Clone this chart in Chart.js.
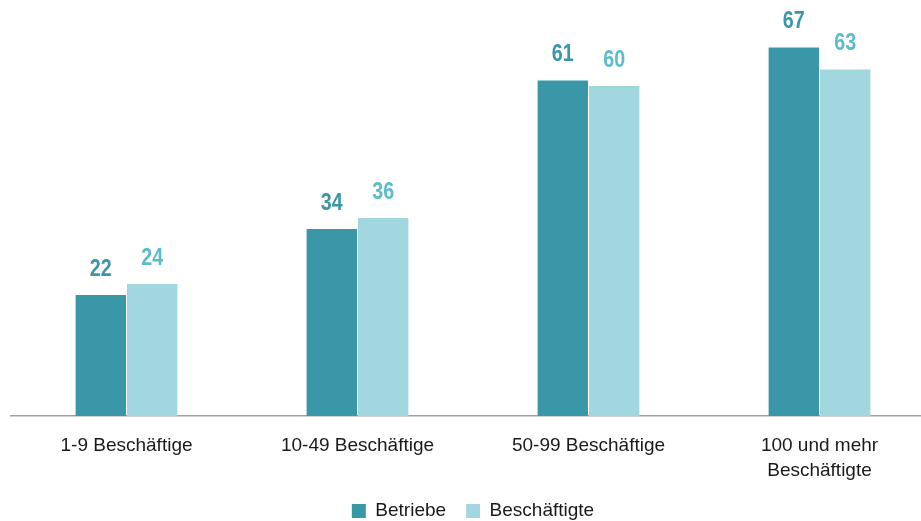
<!DOCTYPE html>
<html>
<head>
<meta charset="utf-8">
<script src="https://cdn.jsdelivr.net/npm/chart.js@4"></script>
<style>
  html, body { margin: 0; padding: 0; background: #fff; overflow: hidden; }
  #wrap { position: relative; width: 936px; height: 521px; }
</style>
</head>
<body>
<div id="wrap"><canvas id="barChart"></canvas></div>
<script>
const categories = ["1-9 Beschäftige", "10-49 Beschäftige", "50-99 Beschäftige", ["100 und mehr", "Beschäftigte"]];
const betriebe = [22, 34, 61, 67];
const beschaeftigte = [24, 36, 60, 63];

const darkColor = "#3997a7";
const lightColor = "#a2d7e0";
const lightLabel = "#5bbccb";
const font = "'Liberation Sans', Arial, sans-serif";

// values above bars, squeezed a bit to look like a narrow font
const valueLabels = {
  id: "valueLabels",
  afterDatasetsDraw(chart) {
    const ctx = chart.ctx;
    chart.data.datasets.forEach(function (ds, i) {
      const meta = chart.getDatasetMeta(i);
      meta.data.forEach(function (bar, j) {
        ctx.save();
        ctx.font = "bold 24px " + font;
        ctx.textAlign = "center";
        ctx.textBaseline = "bottom";
        ctx.fillStyle = ds.labelColor;
        ctx.translate(bar.x, bar.y - 14);
        ctx.scale(0.82, 1);
        ctx.fillText(ds.data[j], 0, 0);
        ctx.restore();
      });
    });
  }
};

const config = {
  type: "bar",
  data: {
    labels: categories,
    datasets: [
      {
        label: "Betriebe",
        data: betriebe,
        backgroundColor: darkColor,
        labelColor: darkColor,
        borderWidth: 0,
        barPercentage: 0.98,
        categoryPercentage: 0.445,
      },
      {
        label: "Beschäftigte",
        data: beschaeftigte,
        backgroundColor: lightColor,
        labelColor: lightLabel,
        borderWidth: 0,
        barPercentage: 0.98,
        categoryPercentage: 0.445,
      },
    ],
  },
  options: {
    responsive: true,
    maintainAspectRatio: false,
    animation: false,
    layout: { padding: { left: 11, right: 1, top: 3.5, bottom: 0 } },
    plugins: {
      legend: {
        position: "bottom",
        maxHeight: 39.5,
        labels: {
          boxWidth: 14,
          boxHeight: 14,
          padding: 20,
          color: "#1a1a1a",
          font: { family: font, size: 19 },
        },
      },
      tooltip: { enabled: false },
    },
    scales: {
      x: {
        grid: { display: false, drawTicks: false },
        border: { display: true, color: "#a3a39b", width: 1.5 },
        ticks: {
          color: "#1a1a1a",
          padding: 17,
          maxRotation: 0,
          autoSkip: false,
          font: { family: font, size: 19, lineHeight: 1.32 },
        },
        afterFit: function (axis) {
          axis.height = 65.5;
        },
      },
      y: {
        display: false,
        min: 0,
        max: 75,
      },
    },
  },
  plugins: [valueLabels],
};

const barChart = new Chart(document.getElementById("barChart"), config);
</script>
</body>
</html>
